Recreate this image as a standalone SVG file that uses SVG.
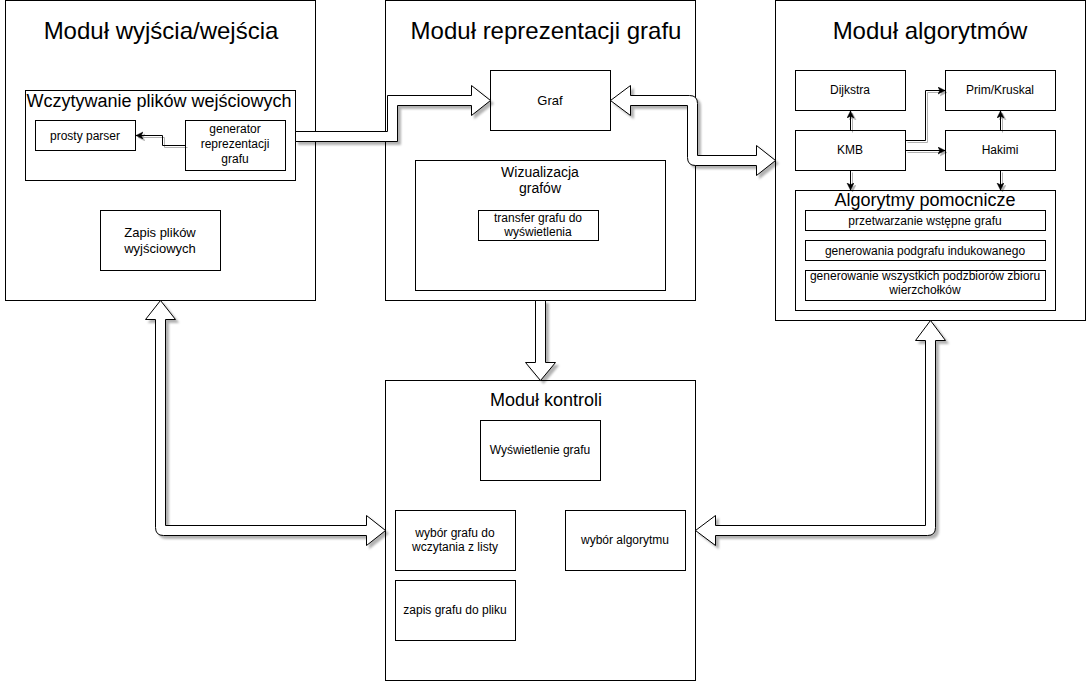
<svg xmlns="http://www.w3.org/2000/svg" width="1091" height="681" viewBox="0 0 1091 681">
<style>
.box{fill:#fff;stroke:#000;stroke-width:1}
.t{font-family:"Liberation Sans",Arial,sans-serif;fill:#000;text-anchor:middle}
.t24{font-size:24px}
.t18{font-size:18px}
.t14{font-size:14px}
.t13{font-size:13px}
.t12{font-size:12px}
.flex{fill:#fff;stroke:#000;stroke-width:1;stroke-linejoin:miter;filter:url(#sh)}
.edge{fill:none;stroke:#000;stroke-width:1;marker-end:url(#arr);filter:url(#sh2)}
</style>
<defs>
<filter id="sh" filterUnits="userSpaceOnUse" x="0" y="0" width="1091" height="681">
<feDropShadow dx="3" dy="3" stdDeviation="0.8" flood-color="#000" flood-opacity="0.3"/>
</filter>
<filter id="sh2" filterUnits="userSpaceOnUse" x="0" y="0" width="1091" height="681">
<feDropShadow dx="2" dy="2" stdDeviation="0.6" flood-color="#000" flood-opacity="0.3"/>
</filter>
<marker id="arr" markerUnits="userSpaceOnUse" markerWidth="10" markerHeight="10" refX="7" refY="3.5" orient="auto">
<path d="M0,0 L7,3.5 L0,7 L1.8,3.5 Z" fill="#000" stroke="#000" stroke-width="0.5"/>
</marker>
</defs>
<rect width="1091" height="681" fill="#fff"/>

<g id="modul-io">
<rect class="box" x="5.5" y="0.5" width="310" height="300"/>
<text class="t t24" x="161" y="39">Moduł wyjścia/wejścia</text>
</g>
<g id="wczytywanie">
<rect class="box" x="25.5" y="90.5" width="270" height="90"/>
<text class="t t18" x="159" y="107">Wczytywanie plików wejściowych</text>
</g>
<g id="prosty-parser">
<rect class="box" x="35.5" y="120.5" width="100" height="30"/>
<text class="t t12" x="85" y="140">prosty parser</text>
</g>
<g id="generator">
<rect class="box" x="185.5" y="120.5" width="100" height="50"/>
<text class="t t12" x="235" y="133">generator</text>
<text class="t t12" x="235" y="148">reprezentacji</text>
<text class="t t12" x="235" y="163">grafu</text>
</g>
<g id="zapis-plikow">
<rect class="box" x="100.5" y="210.5" width="120" height="60"/>
<text class="t t13" x="160" y="237">Zapis plików</text>
<text class="t t13" x="160" y="253">wyjściowych</text>
</g>

<g id="modul-reprezentacji">
<rect class="box" x="385.5" y="0.5" width="310" height="300"/>
<text class="t t24" x="546" y="39">Moduł reprezentacji grafu</text>
</g>
<g id="graf">
<rect class="box" x="490.5" y="70.5" width="120" height="60"/>
<text class="t t13" x="550" y="105">Graf</text>
</g>
<g id="wizualizacja">
<rect class="box" x="415.5" y="160.5" width="250" height="130"/>
<text class="t t14" x="540" y="177">Wizualizacja</text>
<text class="t t14" x="540" y="193">grafów</text>
</g>
<g id="transfer">
<rect class="box" x="478.5" y="210.5" width="120" height="30"/>
<text class="t t12" x="538" y="222">transfer grafu do</text>
<text class="t t12" x="538" y="236">wyświetlenia</text>
</g>

<g id="modul-algorytmow">
<rect class="box" x="775.5" y="0.5" width="310" height="320"/>
<text class="t t24" x="930" y="39">Moduł algorytmów</text>
</g>
<g id="dijkstra">
<rect class="box" x="795.5" y="70.5" width="110" height="40"/>
<text class="t t12" x="850" y="94">Dijkstra</text>
</g>
<g id="prim-kruskal">
<rect class="box" x="945.5" y="70.5" width="110" height="40"/>
<text class="t t12" x="1000" y="94">Prim/Kruskal</text>
</g>
<g id="kmb">
<rect class="box" x="795.5" y="130.5" width="110" height="40"/>
<text class="t t12" x="850" y="154">KMB</text>
</g>
<g id="hakimi">
<rect class="box" x="945.5" y="130.5" width="110" height="40"/>
<text class="t t12" x="1000" y="154">Hakimi</text>
</g>
<g id="algorytmy-pomocnicze">
<rect class="box" x="795.5" y="190.5" width="260" height="120"/>
<text class="t t18" x="925" y="206">Algorytmy pomocnicze</text>
</g>
<g id="przetwarzanie">
<rect class="box" x="805.5" y="210.5" width="240" height="20"/>
<text class="t t12" x="925" y="225">przetwarzanie wstępne grafu</text>
</g>
<g id="podgraf">
<rect class="box" x="805.5" y="240.5" width="240" height="20"/>
<text class="t t12" x="925" y="255">generowania podgrafu indukowanego</text>
</g>
<g id="podzbiory">
<rect class="box" x="805.5" y="270.5" width="240" height="30"/>
<text class="t t12" x="925" y="280">generowanie wszystkich podzbiorów zbioru</text>
<text class="t t12" x="925" y="294">wierzchołków</text>
</g>

<g id="modul-kontroli">
<rect class="box" x="385.5" y="380.5" width="310" height="300"/>
<text class="t t18" x="546" y="406">Moduł kontroli</text>
</g>
<g id="wyswietlenie">
<rect class="box" x="480.5" y="420.5" width="120" height="60"/>
<text class="t t12" x="540" y="454">Wyświetlenie grafu</text>
</g>
<g id="wybor-grafu">
<rect class="box" x="395.5" y="510.5" width="120" height="60"/>
<text class="t t12" x="455" y="537">wybór grafu do</text>
<text class="t t12" x="455" y="551">wczytania z listy</text>
</g>
<g id="wybor-algorytmu">
<rect class="box" x="565.5" y="510.5" width="120" height="60"/>
<text class="t t12" x="625" y="544">wybór algorytmu</text>
</g>
<g id="zapis-grafu">
<rect class="box" x="395.5" y="580.5" width="120" height="60"/>
<text class="t t12" x="455" y="614">zapis grafu do pliku</text>
</g>

<g id="connectors">
<path class="flex" d="M295.5,131.5 L387.5,131.5 L387.5,95.5 L471.5,95.5 L471.5,85.5 L490.5,100.5 L471.5,115.5 L471.5,105.5 L397.5,105.5 L397.5,141.5 L295.5,141.5 Z"/>
<path class="flex" d="M610.5,100.5 L630.5,85.5 L630.5,95.5 L689.5,95.5 Q697.5,95.5 697.5,103.5 L697.5,155.5 L756.5,155.5 L756.5,145.5 L775.5,160.5 L756.5,175.5 L756.5,165.5 L695.5,165.5 Q687.5,165.5 687.5,157.5 L687.5,105.5 L630.5,105.5 L630.5,115.5 Z"/>
<path class="flex" d="M535.5,300.5 L545.5,300.5 L545.5,362.5 L555.5,362.5 L540.5,380.5 L525.5,362.5 L535.5,362.5 Z"/>
<path class="flex" d="M160.5,300.5 L175.5,319.5 L165.5,319.5 L165.5,525.5 L366.5,525.5 L366.5,515.5 L385.5,530.5 L366.5,545.5 L366.5,535.5 L163.5,535.5 Q155.5,535.5 155.5,527.5 L155.5,319.5 L145.5,319.5 Z"/>
<path class="flex" d="M930.5,320.5 L945.5,340.5 L935.5,340.5 L935.5,527.5 Q935.5,535.5 927.5,535.5 L715.5,535.5 L715.5,545.5 L695.5,530.5 L715.5,515.5 L715.5,525.5 L925.5,525.5 L925.5,340.5 L915.5,340.5 Z"/>
<path class="edge" d="M185.5,145.5 L162.5,145.5 L162.5,135.5 L136,135.5"/>
<path class="edge" d="M850.5,130.5 L850.5,111"/>
<path class="edge" d="M1000.5,130.5 L1000.5,111"/>
<path class="edge" d="M850.5,170.5 L850.5,190"/>
<path class="edge" d="M1000.5,170.5 L1000.5,190"/>
<path class="edge" d="M905.5,150.5 L945,150.5"/>
<path class="edge" d="M905.5,140.5 L925.5,140.5 L925.5,90.5 L945,90.5"/>
</g>
</svg>
